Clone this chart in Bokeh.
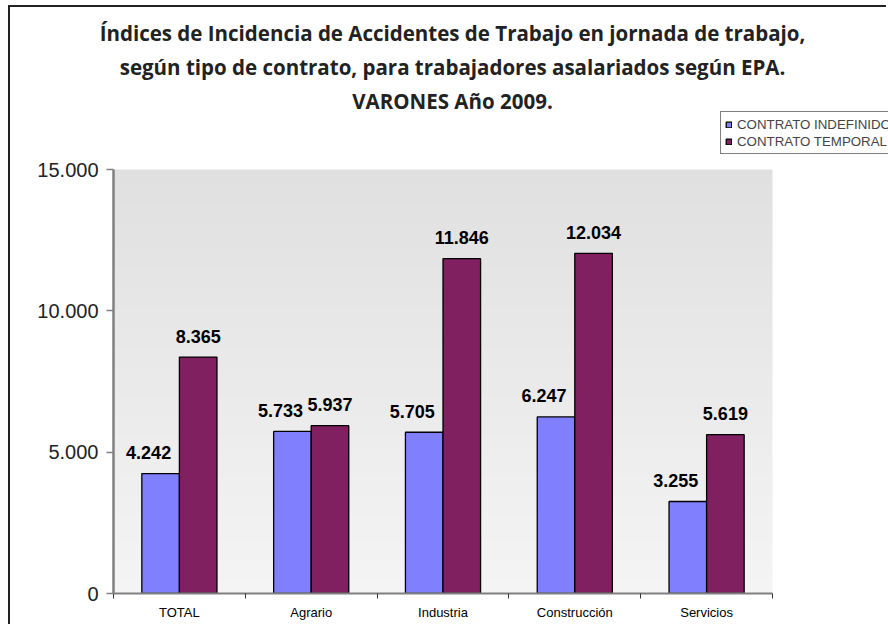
import numpy as np
from bokeh.plotting import figure
from bokeh.models import (ColumnDataSource, FixedTicker, Label, Legend, LegendItem,
                          LinearColorMapper, Range1d)
from bokeh.core.properties import value
from bokeh.embed import file_html
from bokeh.resources import INLINE

# ---------------- data ----------------
categories = ["TOTAL", "Agrario", "Industria", "Construcción", "Servicios"]
indefinido = [4242, 5733, 5705, 6247, 3255]
temporal = [8365, 5937, 11846, 12034, 5619]
series_names = ["CONTRATO INDEFINIDO", "CONTRATO TEMPORAL"]
y_ticks = [0, 5000, 10000, 15000]
y_tick_labels = ["0", "5.000", "10.000", "15.000"]
title_lines = [
    "Índices de Incidencia de Accidentes de Trabajo en jornada de trabajo,",
    "según tipo de contrato, para trabajadores asalariados según EPA.",
    "VARONES Año 2009.",
]


def fmt(v):
    return f"{v:,}".replace(",", ".")


n = len(categories)
centers = np.arange(n) + 0.5
bar_w = 0.285
y_max = y_ticks[-1]

# ---------------- layout (pixels) ----------------
W, H = 878, 619            # canvas, placed at (10, 7) in the page
plot_left, plot_right = 113, 772
plot_top, plot_bottom = 169, 593
frame_top = 108            # frame extends above plot area to hold the legend
min_left = plot_left - 10
min_top = frame_top - 7
min_bottom = 626 - plot_bottom
x_end = n * (888 - plot_left) / (plot_right - plot_left)
y_end = y_max * (plot_bottom - frame_top) / (plot_bottom - plot_top)

src_a = ColumnDataSource(dict(x=centers - bar_w / 2, top=indefinido,
                              label=[fmt(v) for v in indefinido]))
src_b = ColumnDataSource(dict(x=centers + bar_w / 2, top=temporal,
                              label=[fmt(v) for v in temporal]))

p = figure(width=W, height=H, x_range=Range1d(0, x_end), y_range=Range1d(0, y_end),
           output_backend="svg", toolbar_location=None,
           min_border_left=min_left, min_border_right=0, min_border_top=min_top,
           min_border_bottom=min_bottom)
p.styles = {"border-left": "2px solid #222", "border-top": "2px solid #222",
            "margin-left": "8px", "margin-top": "5px"}
p.outline_line_color = None
p.xgrid.visible = False
p.ygrid.visible = False
p.background_fill_color = "white"

# gradient background of plot area (decoration)
grays = []
for i in range(64):
    g = int(round(0xf4 + (0xe0 - 0xf4) * i / 63))
    grays.append("#%02x%02x%02x" % (g, g, g))
grad = np.linspace(0, 1, 128).reshape(128, 1)
p.image(image=[grad], x=0, y=0, dw=n, dh=y_max,
        color_mapper=LinearColorMapper(palette=grays, low=0, high=1))

ra = p.vbar(x="x", top="top", bottom=0, width=bar_w, source=src_a,
            fill_color="#8080ff", line_color="black", line_width=1.3)
rb = p.vbar(x="x", top="top", bottom=0, width=bar_w, source=src_b,
            fill_color="#802060", line_color="black", line_width=1.3)

label_kw = dict(text="label", text_align="center", text_baseline="middle",
                text_font=value("Liberation Sans"), text_font_style="bold",
                text_font_size="18px", text_color="black")
p.text(x="x", y="top", x_offset=-12, y_offset=-21, source=src_a, **label_kw)
p.text(x="x", y="top", x_offset=0, y_offset=-21, source=src_b, **label_kw)

# x axis
xa = p.xaxis[0]
xa.bounds = (0, n)
xa.ticker = FixedTicker(ticks=list(centers), minor_ticks=list(range(n + 1)))
xa.major_label_overrides = {float(c): cat for c, cat in zip(centers, categories)}
xa.major_tick_out = 0
xa.major_tick_in = 0
xa.minor_tick_out = 5
xa.minor_tick_in = 0
xa.minor_tick_line_color = "#333333"
xa.axis_line_color = "#808080"
xa.axis_line_width = 2
xa.major_label_text_font = "Liberation Sans"
xa.major_label_text_font_size = "13px"
xa.major_label_text_color = "black"
xa.major_label_standoff = 6

# y axis
ya = p.yaxis[0]
ya.bounds = (0, y_max)
ya.ticker = FixedTicker(ticks=y_ticks, minor_ticks=[])
ya.major_label_overrides = {t: s for t, s in zip(y_ticks, y_tick_labels)}
ya.major_tick_out = 7
ya.major_tick_in = 0
ya.major_tick_line_color = "#808080"
ya.major_tick_line_width = 1.5
ya.minor_tick_out = 0
ya.minor_tick_in = 0
ya.axis_line_color = "#808080"
ya.axis_line_width = 2.5
ya.major_label_text_font = "Liberation Sans"
ya.major_label_text_font_size = "20px"
ya.major_label_text_color = "#222222"
ya.major_label_standoff = 8

# legend (inside the extended frame, clipped by the right edge like the reference)
legend = Legend(items=[LegendItem(label=series_names[0], renderers=[ra]),
                       LegendItem(label=series_names[1], renderers=[rb])],
                location=(720 - plot_left, plot_bottom - 154), orientation="vertical",
                border_line_color="black", border_line_width=1,
                background_fill_color="white", background_fill_alpha=1,
                glyph_width=7, glyph_height=7, label_height=16,
                label_text_font="Liberation Sans", label_text_font_size="13.3px",
                label_standoff=5, padding=4, spacing=1, margin=0)
p.add_layout(legend)

# title: three centred lines in the top panel (nearest line first)
for line, dy in zip(reversed(title_lines), [-6, 0, 6]):
    p.add_layout(Label(x=452 - plot_left, y=dy, x_units="screen", y_units="screen",
                       text=line, text_align="center", text_baseline="bottom",
                       text_font="Open Sans", text_font_style="bold",
                       text_font_size="20.5px", text_color="#222222"), "above")

open("out.html", "w").write(file_html(p, INLINE))
